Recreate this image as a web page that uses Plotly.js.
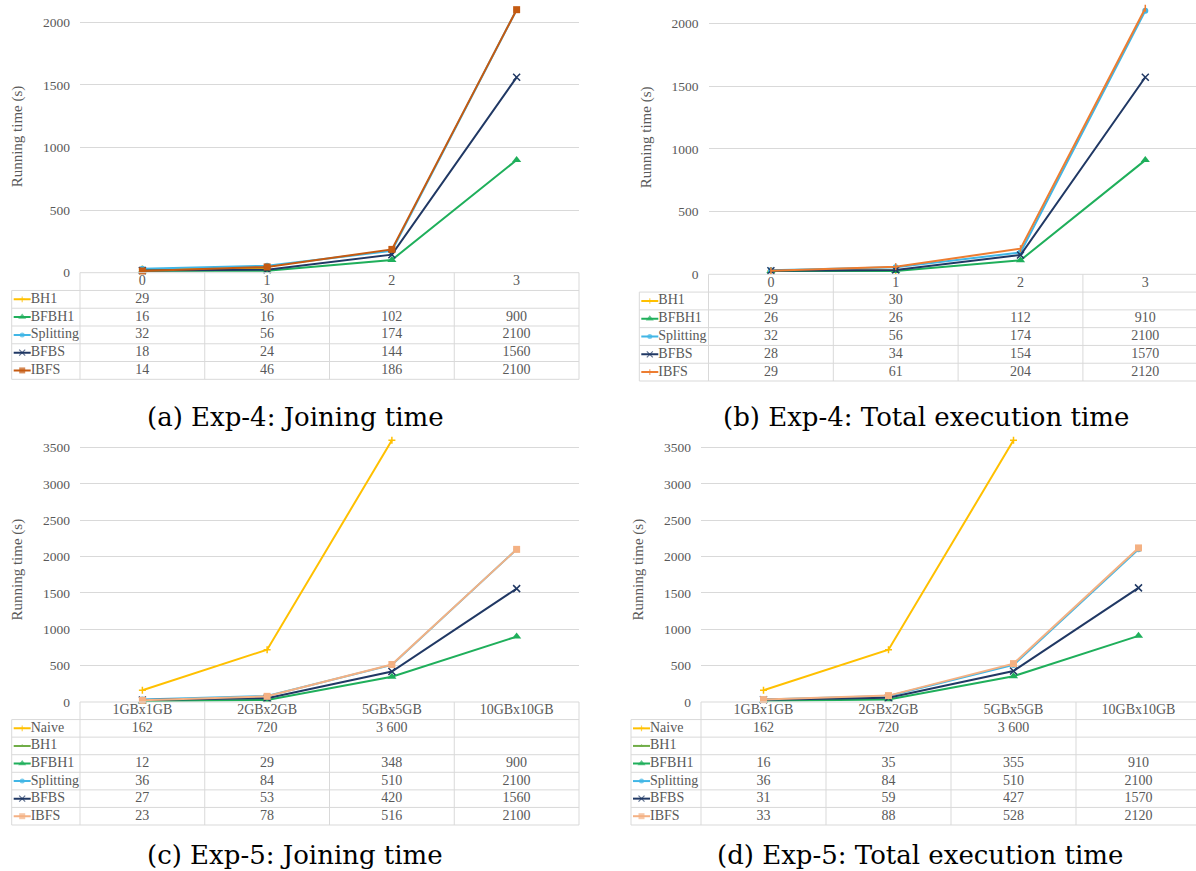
<!DOCTYPE html>
<html><head><meta charset="utf-8">
<script src="https://cdn.plot.ly/plotly-3.0.1.min.js"></script>
<style>html,body{margin:0;padding:0;background:#fff;}#chart{width:1196px;height:871px;}</style>
</head><body><div id="chart"></div>
<script>
const W = 1196, H = 871;

// ---------------- DATA ----------------
const exp4Categories = ["0", "1", "2", "3"];
const exp5Categories = ["1GBx1GB", "2GBx2GB", "5GBx5GB", "10GBx10GB"];
const exp4Series = ["BH1", "BFBH1", "Splitting", "BFBS", "IBFS"];
const exp5Series = ["Naive", "BH1", "BFBH1", "Splitting", "BFBS", "IBFS"];
const yTicksExp4 = [0, 500, 1000, 1500, 2000];
const yTicksExp5 = [0, 500, 1000, 1500, 2000, 2500, 3000, 3500];

// (a) Exp-4: Joining time
const a_BH1       = [29, 30, null, null];
const a_BFBH1     = [16, 16, 102, 900];
const a_Splitting = [32, 56, 174, 2100];
const a_BFBS      = [18, 24, 144, 1560];
const a_IBFS      = [14, 46, 186, 2100];

// (b) Exp-4: Total execution time
const b_BH1       = [29, 30, null, null];
const b_BFBH1     = [26, 26, 112, 910];
const b_Splitting = [32, 56, 174, 2100];
const b_BFBS      = [28, 34, 154, 1570];
const b_IBFS      = [29, 61, 204, 2120];

// (c) Exp-5: Joining time
const c_Naive     = [162, 720, 3600, null];
const c_BH1       = [null, null, null, null];
const c_BFBH1     = [12, 29, 348, 900];
const c_Splitting = [36, 84, 510, 2100];
const c_BFBS      = [27, 53, 420, 1560];
const c_IBFS      = [23, 78, 516, 2100];

// (d) Exp-5: Total execution time
const d_Naive     = [162, 720, 3600, null];
const d_BH1       = [null, null, null, null];
const d_BFBH1     = [16, 35, 355, 910];
const d_Splitting = [36, 84, 510, 2100];
const d_BFBS      = [31, 59, 427, 1570];
const d_IBFS      = [33, 88, 528, 2120];

const captions = ["(a) Exp-4: Joining time", "(b) Exp-4: Total execution time",
                  "(c) Exp-5: Joining time", "(d) Exp-5: Total execution time"];
const yTitle = "Running time (s)";
const spacedThousands = ["Naive"];

// ---------------- STYLES ----------------
const GREEN = '#1FAF5B', BLUE = '#41B6E6', NAVY = '#203864', GOLD = '#FFC000';
const st = {
  BH1a: {color: GOLD, symbol: 'cross-thin-open', size: 5},
  BFBH1: {color: GREEN, symbol: 'triangle-up', size: 8},
  Splitting: {color: BLUE, symbol: 'circle', size: 6},
  BFBS: {color: NAVY, symbol: 'x-thin-open', size: 7},
  Naive: {color: GOLD, symbol: 'cross-thin-open', size: 5},
  BH1c: {color: '#70AD47', symbol: 'triangle-up', size: 5}
};
const styleSets = [
  [st.BH1a, st.BFBH1, st.Splitting, st.BFBS, {color: '#C55A11', symbol: 'square', size: 7}],
  [st.BH1a, st.BFBH1, st.Splitting, st.BFBS, {color: '#ED7D31', symbol: 'line-ns-open', size: 5}],
  [st.Naive, st.BH1c, st.BFBH1, st.Splitting, st.BFBS, {color: '#F4B183', symbol: 'square', size: 7}],
  [st.Naive, st.BH1c, st.BFBH1, st.Splitting, st.BFBS, {color: '#F4B183', symbol: 'square', size: 7}]
];

// panel geometry (pixels)
const panels = [
  {cats: exp4Categories, names: exp4Series, values: [a_BH1, a_BFBH1, a_Splitting, a_BFBS, a_IBFS], yTicks: yTicksExp4,
   tLeft: 11.7, pLeft: 80, colW: 124.75, right: 579, yTop: 0, y0: 272.7, ppu: 0.12525, tBottom: 379.3,
   titleX: 17, capX: 295, capY: 417},
  {cats: exp4Categories, names: exp4Series, values: [b_BH1, b_BFBH1, b_Splitting, b_BFBS, b_IBFS], yTicks: yTicksExp4,
   tLeft: 639.3, pLeft: 708.5, colW: 124.8, right: 1196, yTop: 0, y0: 274.3, ppu: 0.12550, tBottom: 381,
   titleX: 646, capX: 926, capY: 417},
  {cats: exp5Categories, names: exp5Series, values: [c_Naive, c_BH1, c_BFBH1, c_Splitting, c_BFBS, c_IBFS], yTicks: yTicksExp5,
   tLeft: 11.7, pLeft: 80, colW: 124.75, right: 579, yTop: 437, y0: 702, ppu: 0.07268, tBottom: 825,
   titleX: 17, capX: 295, capY: 855},
  {cats: exp5Categories, names: exp5Series, values: [d_Naive, d_BH1, d_BFBH1, d_Splitting, d_BFBS, d_IBFS], yTicks: yTicksExp5,
   tLeft: 631, pLeft: 701, colW: 125, right: 1196, yTop: 437, y0: 702, ppu: 0.07268, tBottom: 825,
   titleX: 638, capX: 920, capY: 855}
];

const FONT = '"Liberation Serif", serif';
const TXT = '#595959';
const GRID = '#D9D9D9';

function fmt(v, spaced) {
  if (v === null || v === undefined) return '';
  let s = String(v);
  if (spaced) s = s.replace(/\B(?=(\d{3})+(?!\d))/g, ' ');
  return s;
}

const traces = [];
const layout = {
  width: W, height: H, margin: {l: 0, r: 0, t: 0, b: 0},
  paper_bgcolor: '#fff', plot_bgcolor: 'rgba(0,0,0,0)',
  showlegend: false, shapes: [], annotations: [],
  font: {family: FONT, color: TXT}
};

panels.forEach((p, i) => {
  const n1 = 2 * i + 1, n2 = 2 * i + 2;
  const xa1 = 'xaxis' + (n1 === 1 ? '' : n1), ya1 = 'yaxis' + (n1 === 1 ? '' : n1);
  const xa2 = 'xaxis' + n2, ya2 = 'yaxis' + n2;
  const xr1 = 'x' + (n1 === 1 ? '' : n1), yr1 = 'y' + (n1 === 1 ? '' : n1);
  const xr2 = 'x' + n2, yr2 = 'y' + n2;
  const rightPx = Math.min(p.right, W);
  const mapX = px => -0.5 + (px - p.pLeft) / p.colW;
  const nRows = p.names.length + 1;
  const rowH = (p.tBottom - p.y0) / nRows;
  const mapY = px => (px - p.y0) / rowH - 0.5;

  // chart axes
  layout[xa1] = {domain: [p.pLeft / W, rightPx / W], range: [-0.5, mapX(rightPx)], anchor: yr1,
    showgrid: false, zeroline: false, showline: false, showticklabels: false, ticks: '', fixedrange: true};
  layout[ya1] = {domain: [1 - p.y0 / H, 1 - p.yTop / H], range: [0, (p.y0 - p.yTop) / p.ppu], anchor: xr1,
    tickmode: 'array', tickvals: p.yTicks, ticktext: p.yTicks.map(String),
    showgrid: true, gridcolor: GRID, gridwidth: 1, zeroline: false, showline: false, ticks: '',
    tickfont: {family: FONT, size: 13.5, color: TXT}, ticklabelstandoff: 9, fixedrange: true};

  // table axes (padded a few px to avoid clipping edge lines)
  const tx0 = p.tLeft - 4, tx1 = Math.min(p.right + 4, W);
  const ty0 = p.y0 - 4, ty1 = p.tBottom + 4;
  layout[xa2] = {domain: [tx0 / W, tx1 / W], range: [mapX(tx0), mapX(tx1)], anchor: yr2, visible: false, fixedrange: true};
  layout[ya2] = {domain: [1 - ty1 / H, 1 - ty0 / H], range: [mapY(ty1), mapY(ty0)], anchor: xr2, visible: false, fixedrange: true};

  const xMaxData = mapX(rightPx);
  const xLeftData = mapX(p.tLeft);
  const ln = {color: GRID, width: 1};
  layout.shapes.push({type: 'line', xref: xr2, yref: yr2, x0: -0.5, x1: xMaxData, y0: -0.5, y1: -0.5, line: ln, layer: 'below'});
  for (let r = 1; r <= nRows; r++) {
    layout.shapes.push({type: 'line', xref: xr2, yref: yr2, x0: xLeftData, x1: xMaxData, y0: r - 0.5, y1: r - 0.5, line: ln, layer: 'below'});
  }
  for (let k = 0; k <= p.cats.length; k++) {
    const xv = k - 0.5;
    if (xv > xMaxData + 1e-6) continue;
    layout.shapes.push({type: 'line', xref: xr2, yref: yr2, x0: xv, x1: xv, y0: -0.5, y1: nRows - 0.5, line: ln, layer: 'below'});
  }
  layout.shapes.push({type: 'line', xref: xr2, yref: yr2, x0: xLeftData, x1: xLeftData, y0: 0.5, y1: nRows - 0.5, line: ln, layer: 'below'});

  // chart lines
  p.names.forEach((name, s) => {
    const sty = styleSets[i][s];
    const open = sty.symbol.indexOf('open') >= 0;
    traces.push({
      type: 'scatter', mode: 'lines+markers', x: p.cats.map((c, k) => k), y: p.values[s],
      xaxis: xr1, yaxis: yr1, cliponaxis: false, hoverinfo: 'skip', connectgaps: false,
      line: {color: sty.color, width: 2},
      marker: {symbol: sty.symbol, size: sty.size, color: sty.color, line: {color: sty.color, width: open ? 1.5 : 0}}
    });
  });

  // table: header
  traces.push({type: 'scatter', mode: 'text', x: p.cats.map((c, k) => k), y: p.cats.map(() => 0), text: p.cats,
    textposition: 'middle center', textfont: {family: FONT, size: 14, color: TXT},
    xaxis: xr2, yaxis: yr2, cliponaxis: false, hoverinfo: 'skip'});
  // table: values
  const vx = [], vy = [], vt = [];
  p.names.forEach((name, s) => {
    p.values[s].forEach((v, k) => {
      vx.push(k); vy.push(s + 1); vt.push(fmt(v, spacedThousands.includes(name)));
    });
  });
  traces.push({type: 'scatter', mode: 'text', x: vx, y: vy, text: vt,
    textposition: 'middle center', textfont: {family: FONT, size: 14, color: TXT},
    xaxis: xr2, yaxis: yr2, cliponaxis: false, hoverinfo: 'skip'});
  // table: row labels + legend keys
  const kx0 = mapX(p.tLeft + 2), kx1 = mapX(p.tLeft + 19), kxm = (kx0 + kx1) / 2;
  p.names.forEach((name, s) => {
    const sty = styleSets[i][s];
    const open = sty.symbol.indexOf('open') >= 0;
    traces.push({type: 'scatter', mode: 'lines+markers', x: [kx0, kxm, kx1], y: [s + 1, s + 1, s + 1],
      xaxis: xr2, yaxis: yr2, cliponaxis: false, hoverinfo: 'skip',
      line: {color: sty.color, width: 2},
      marker: {symbol: sty.symbol, size: [0, Math.max(4, sty.size - 1), 0], color: sty.color, line: {color: sty.color, width: open ? 1.2 : 0}}});
  });
  traces.push({type: 'scatter', mode: 'text', x: p.names.map(() => kx1), y: p.names.map((n, s) => s + 1), text: p.names,
    textposition: 'middle right', textfont: {family: FONT, size: 14, color: TXT}, marker: {size: 1},
    xaxis: xr2, yaxis: yr2, cliponaxis: false, hoverinfo: 'skip'});

  // y-axis title
  layout.annotations.push({text: yTitle, xref: 'paper', yref: 'paper', x: p.titleX / W, y: 1 - ((p.yTop + p.y0) / 2) / H,
    textangle: -90, showarrow: false, xanchor: 'center', yanchor: 'middle', font: {family: FONT, size: 15, color: TXT}});
  // caption
  layout.annotations.push({text: captions[i], xref: 'paper', yref: 'paper', x: p.capX / W, y: 1 - p.capY / H,
    showarrow: false, xanchor: 'center', yanchor: 'middle', font: {family: '"DejaVu Serif", serif', size: 26, color: '#000'}});
});

Plotly.newPlot('chart', traces, layout, {staticPlot: true, displayModeBar: false});
</script>
</body></html>
